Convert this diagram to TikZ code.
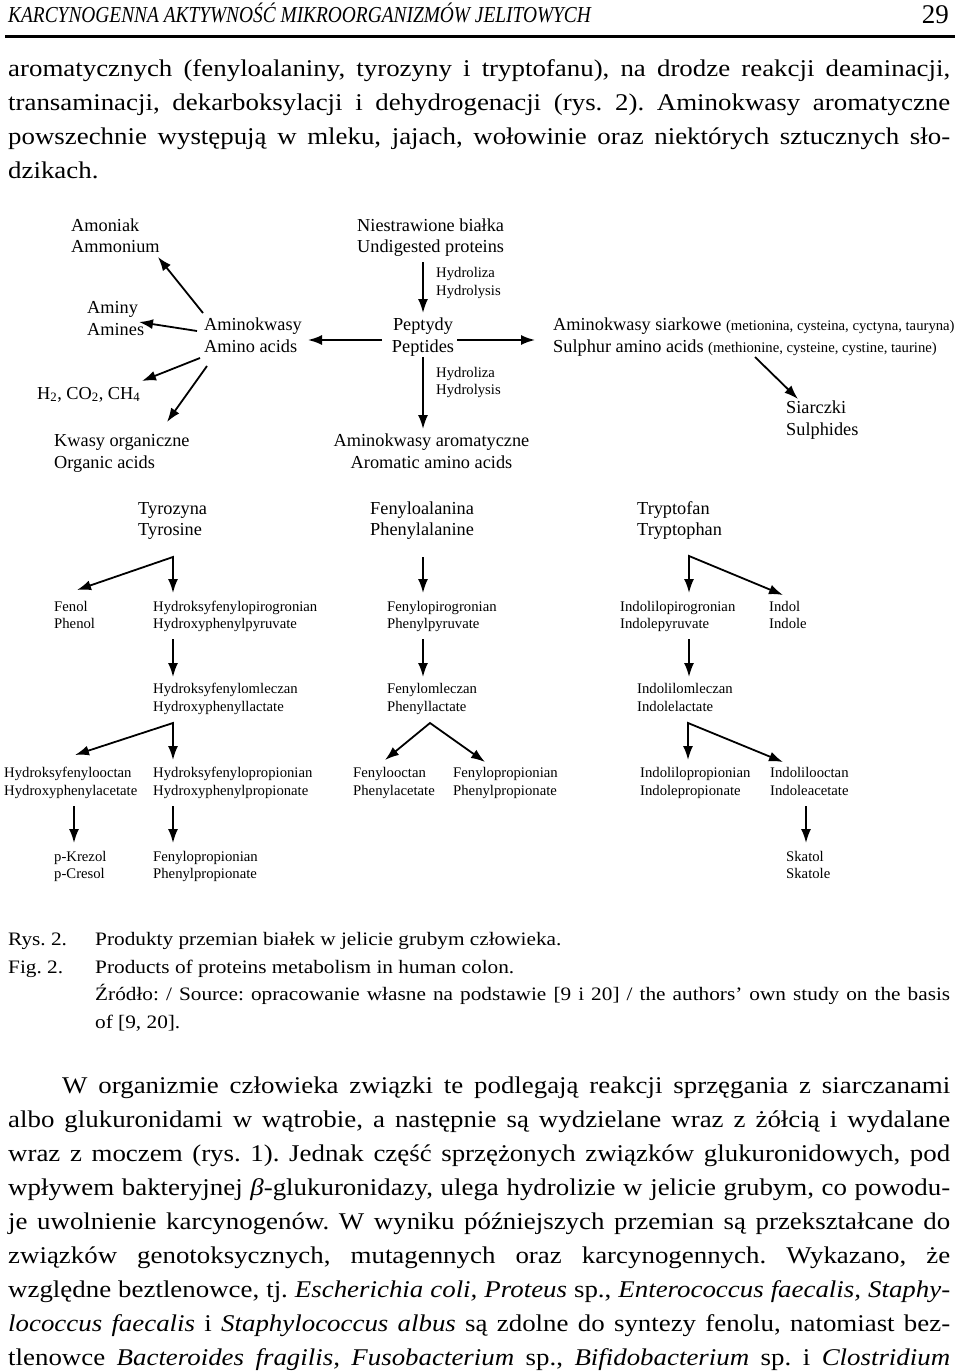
\documentclass[tikz,border=0pt]{standalone}
\usepackage{fontspec}
\usepackage{graphicx}
\setmainfont{Liberation Serif}
\newfontfamily\bodyf[FakeStretch=1.12]{Liberation Serif}
\newfontfamily\headf[FakeStretch=0.85]{Liberation Serif}
\usetikzlibrary{arrows.meta}
\newsavebox\lbox
\newcommand\jl[2]{\sbox\lbox{#2}\ifdim\wd\lbox>#1\relax\resizebox{#1}{\height}{\usebox\lbox}\else\makebox[#1][s]{#2}\fi}
\tikzset{
  lbl/.style={align=left, inner sep=0pt, anchor=west, yshift=-3pt, execute at begin node=\strut, execute at end node=\strut},
  big/.style={lbl, font=\fontsize{18.3}{21.5}\selectfont},
  bigc/.style={font=\fontsize{18.3}{21.5}\selectfont, align=center, inner sep=0pt, yshift=-3pt, execute at begin node=\strut, execute at end node=\strut},
  sm/.style={lbl, font=\fontsize{14.7}{17.5}\selectfont},
  arr/.style={line width=1.8pt, -{Latex[length=14pt,width=10pt]}},
  arrb/.style={line width=1.8pt, {Latex[length=14pt,width=10pt]}-{Latex[length=14pt,width=10pt]}},
  bodyt/.style={font=\bodyf\fontsize{24}{34}\selectfont, inner sep=0pt, anchor=base west},
  capt/.style={font=\bodyf\fontsize{19}{28}\selectfont, inner sep=0pt, anchor=base west},
}
\begin{document}
\frenchspacing
\begin{tikzpicture}[x=1pt,y=-1pt]
\fill[white] (0,0) rectangle (960,1372);
\useasboundingbox (0,0) rectangle (960,1372);

% header
\node[inner sep=0pt, anchor=base west, font=\headf\itshape\fontsize{22.8}{26}\selectfont] (hd) at (8,23) {KARCYNOGENNA AKTYWNOŚĆ MIKROORGANIZMÓW JELITOWYCH};
\node[inner sep=0pt, anchor=base east, font=\fontsize{27}{30}\selectfont] (pg) at (949,24) {29};
\draw[line width=3pt] (5,37) -- (955,37);

% first paragraph
\node[bodyt] (t1) at (8,77) {\jl{942pt}{aromatycznych (fenyloalaniny, tyrozyny i tryptofanu), na drodze reakcji deaminacji,}};
\node[bodyt] (t2) at (8,111) {\jl{942pt}{transaminacji, dekarboksylacji i dehydrogenacji (rys. 2). Aminokwasy aromatyczne}};
\node[bodyt] (t3) at (8,145) {\jl{942pt}{powszechnie występują w mleku, jajach, wołowinie oraz niektórych sztucznych sło-}};
\node[bodyt] (t4) at (8,179) {dzikach.};

% diagram top
\node[big] (amm) at (71,236) {Amoniak\\Ammonium};
\node[big] (amin) at (87,318.5) {Aminy\\Amines};
\node[big] (aa) at (204,335.5) {Aminokwasy\\Amino acids};
\node[big] (gas) at (37,392) {H\textsubscript{2}, CO\textsubscript{2}, CH\textsubscript{4}};
\node[big] (org) at (54,451.5) {Kwasy organiczne\\Organic acids};
\node[big] (prot) at (357,236) {Niestrawione białka\\Undigested proteins};
\node[sm] (hy1) at (436,281) {Hydroliza\\Hydrolysis};
\node[bigc] (pep) at (423,335.5) {Peptydy\\Peptides};
\node[sm] (hy2) at (436,380.5) {Hydroliza\\Hydrolysis};
\node[bigc] (arom) at (431.5,451.5) {Aminokwasy aromatyczne\\Aromatic amino acids};
\node[big] (sulf) at (553,335.5) {Aminokwasy siarkowe {\fontsize{14.7}{17.5}\selectfont (metionina, cysteina, cyctyna, tauryna)}\\Sulphur amino acids {\fontsize{14.7}{17.5}\selectfont (methionine, cysteine, cystine, taurine)}};
\node[big] (sulph) at (786,418.5) {Siarczki\\Sulphides};

\coordinate (p1) at (423,262); \coordinate (p2) at (423,313);
\coordinate (p3) at (423,357); \coordinate (p4) at (423,429);
\coordinate (p5) at (382,340); \coordinate (p6) at (308,340);
\coordinate (p7) at (457,340); \coordinate (p8) at (535,340);
\coordinate (a1) at (203,313); \coordinate (a1t) at (158,257);
\coordinate (a2) at (197,331); \coordinate (a2t) at (139,322);
\coordinate (a3) at (200,358); \coordinate (a3t) at (142,381);
\coordinate (a4) at (207,366); \coordinate (a4t) at (167,422);
\coordinate (s1) at (755,357); \coordinate (s1t) at (798,399);
\draw[arr] (p1) -- (p2);
\draw[arr] (p3) -- (p4);
\draw[arr] (p5) -- (p6);
\draw[arr] (p7) -- (p8);
\draw[arr] (a1) -- (a1t);
\draw[arr] (a2) -- (a2t);
\draw[arr] (a3) -- (a3t);
\draw[arr] (a4) -- (a4t);
\draw[arr] (s1) -- (s1t);

% diagram lower
\node[big] (tyr) at (138,519) {Tyrozyna\\Tyrosine};
\node[big] (phe) at (370,519) {Fenyloalanina\\Phenylalanine};
\node[big] (trp) at (637,519) {Tryptofan\\Tryptophan};

\node[sm] (fen) at (54,614.5) {Fenol\\Phenol};
\node[sm] (hpp) at (153,614.5) {Hydroksyfenylopirogronian\\Hydroxyphenylpyruvate};
\node[sm] (ppy) at (387,614.5) {Fenylopirogronian\\Phenylpyruvate};
\node[sm] (ipy) at (620,614.5) {Indolilopirogronian\\Indolepyruvate};
\node[sm] (ind) at (769,614.5) {Indol\\Indole};

\node[sm] (hpl) at (153,697) {Hydroksyfenylomleczan\\Hydroxyphenyllactate};
\node[sm] (pla) at (387,697) {Fenylomleczan\\Phenyllactate};
\node[sm] (ila) at (637,697) {Indolilomleczan\\Indolelactate};

\node[sm] (hpa) at (4,781) {Hydroksyfenylooctan\\Hydroxyphenylacetate};
\node[sm] (hppr) at (153,781) {Hydroksyfenylopropionian\\Hydroxyphenylpropionate};
\node[sm] (pac) at (353,781) {Fenylooctan\\Phenylacetate};
\node[sm] (ppr) at (453,781) {Fenylopropionian\\Phenylpropionate};
\node[sm] (ipr) at (640,781) {Indolilopropionian\\Indolepropionate};
\node[sm] (iac) at (770,781) {Indolilooctan\\Indoleacetate};

\node[sm] (cres) at (54,864.5) {p-Krezol\\p-Cresol};
\node[sm] (pprop) at (153,864.5) {Fenylopropionian\\Phenylpropionate};
\node[sm] (skat) at (786,864.5) {Skatol\\Skatole};

\coordinate (tc) at (173,557); \coordinate (tl) at (77,590); \coordinate (td) at (173,593);
\coordinate (f1) at (423,557); \coordinate (f1t) at (423,593);
\coordinate (wc) at (689,556); \coordinate (wd) at (689,593); \coordinate (wr) at (783,595);
\coordinate (r1) at (173,639); \coordinate (r1t) at (173,677);
\coordinate (r2) at (423,639); \coordinate (r2t) at (423,677);
\coordinate (r3) at (689,639); \coordinate (r3t) at (689,677);
\coordinate (hc) at (173,723); \coordinate (hl) at (75,755); \coordinate (hd2) at (173,760);
\coordinate (pc) at (430,723); \coordinate (pl) at (385,760); \coordinate (pr) at (485,762);
\coordinate (ic) at (688,723); \coordinate (id) at (688,760); \coordinate (ir) at (783,762);
\coordinate (b1) at (74,806); \coordinate (b1t) at (74,843);
\coordinate (b2) at (173,806); \coordinate (b2t) at (173,843);
\coordinate (b3) at (806,806); \coordinate (b3t) at (806,843);

\draw[arrb] (tl) -- (tc) -- (td);
\draw[arr] (f1) -- (f1t);
\draw[arrb] (wd) -- (wc) -- (wr);
\draw[arr] (r1) -- (r1t);
\draw[arr] (r2) -- (r2t);
\draw[arr] (r3) -- (r3t);
\draw[arrb] (hl) -- (hc) -- (hd2);
\draw[arrb] (pl) -- (pc) -- (pr);
\draw[arrb] (id) -- (ic) -- (ir);
\draw[arr] (b1) -- (b1t);
\draw[arr] (b2) -- (b2t);
\draw[arr] (b3) -- (b3t);

% caption
\node[capt] (c1) at (8,945) {Rys. 2.};
\node[capt] (c2) at (95,945) {Produkty przemian białek w jelicie grubym człowieka.};
\node[capt] (c3) at (8,973) {Fig. 2.};
\node[capt] (c4) at (95,973) {Products of proteins metabolism in human colon.};
\node[capt] (c5) at (95,1000) {\jl{855pt}{Źródło: / Source: opracowanie własne na podstawie [9 i 20] / the authors’ own study on the basis}};
\node[capt] (c6) at (95,1028) {of [9, 20].};

% second paragraph
\node[bodyt] (u1) at (62,1093) {\jl{888pt}{W organizmie człowieka związki te podlegają reakcji sprzęgania z siarczanami}};
\node[bodyt] (u2) at (8,1127) {\jl{942pt}{albo glukuronidami w wątrobie, a następnie są wydzielane wraz z żółcią i wydalane}};
\node[bodyt] (u3) at (8,1161) {\jl{942pt}{wraz z moczem (rys. 1). Jednak część sprzężonych związków glukuronidowych, pod}};
\node[bodyt] (u4) at (8,1195) {\jl{942pt}{wpływem bakteryjnej \textit{β}-glukuronidazy, ulega hydrolizie w jelicie grubym, co powodu-}};
\node[bodyt] (u5) at (8,1229) {\jl{942pt}{je uwolnienie karcynogenów. W wyniku późniejszych przemian są przekształcane do}};
\node[bodyt] (u6) at (8,1263) {\jl{942pt}{związków genotoksycznych, mutagennych oraz karcynogennych. Wykazano, że}};
\node[bodyt] (u7) at (8,1297) {\jl{942pt}{względne beztlenowce, tj. \textit{Escherichia coli, Proteus} sp., \textit{Enterococcus faecalis, Staphy-}}};
\node[bodyt] (u8) at (8,1331) {\jl{942pt}{\textit{lococcus faecalis} i \textit{Staphylococcus albus} są zdolne do syntezy fenolu, natomiast bez-}};
\node[bodyt] (u9) at (8,1365) {\jl{942pt}{tlenowce \textit{Bacteroides fragilis, Fusobacterium} sp., \textit{Bifidobacterium} sp. i \textit{Clostridium}}};
\end{tikzpicture}
\end{document}
